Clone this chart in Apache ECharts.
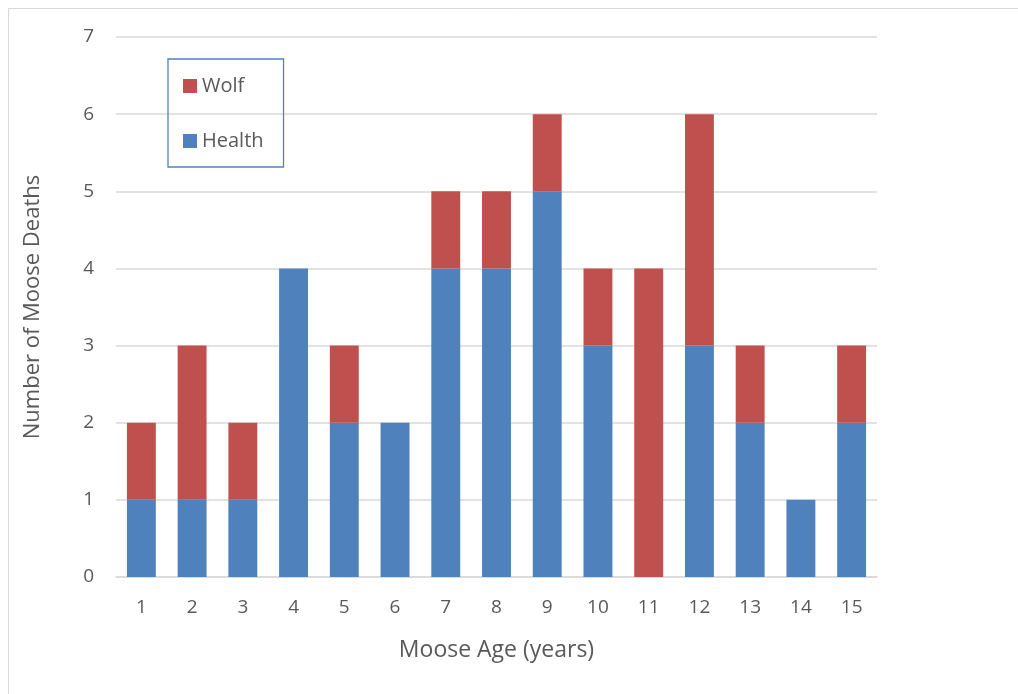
<!DOCTYPE html>
<html><head><meta charset="utf-8">
<script src="https://cdn.jsdelivr.net/npm/echarts@6/dist/echarts.min.js"></script>
<style>html,body{margin:0;padding:0;background:#fff}#c{width:1018px;height:694px}</style>
</head><body><div id="c"></div>
<script>
const categories = ['1','2','3','4','5','6','7','8','9','10','11','12','13','14','15'];
const health = [1,1,1,4,2,2,4,4,5,3,0,3,2,1,2];
const wolf = [1,2,1,0,1,0,1,1,1,1,4,3,1,0,1];
const seriesNames = ['Health','Wolf'];
const xTitle = 'Moose Age (years)';
const yTitle = 'Number of Moose Deaths';

const font = '"Open Sans", "Liberation Sans", sans-serif';
const txt = '#595959';
const chart = echarts.init(document.getElementById('c'), null, {renderer:'canvas'});
chart.setOption({
  animation:false,
  backgroundColor:'#fff',
  textStyle:{fontFamily:font},
  graphic:[{type:'rect', shape:{x:8.5,y:8.5,width:1030,height:700}, style:{fill:'none',stroke:'#D9D9D9',lineWidth:1}, silent:true, z:-1}],
  grid:{left:116,right:141,top:37,bottom:117,containLabel:false},
  legend:{
    data:['Wolf','Health'], orient:'vertical', left:168, top:59,
    itemWidth:14, itemHeight:14, itemGap:35, icon:'rect',
    padding:[17,20,16,15], borderColor:'#4F81BD', borderWidth:1.3,
    textStyle:{color:txt,fontSize:20,fontFamily:font}
  },
  xAxis:{type:'category', data:categories, name:xTitle, nameLocation:'middle', nameGap:62,
    nameTextStyle:{color:txt,fontSize:23,fontFamily:font},
    axisLine:{show:true,lineStyle:{color:'#D9D9D9',width:1.5}}, axisTick:{show:false},
    axisLabel:{color:txt,fontSize:19,margin:21,fontFamily:font}},
  yAxis:{type:'value', min:0, max:7, interval:1, name:yTitle, nameLocation:'middle', nameGap:72,
    nameTextStyle:{color:txt,fontSize:22,fontFamily:font},
    axisLine:{show:false}, axisTick:{show:false},
    axisLabel:{color:txt,fontSize:19,margin:22,fontFamily:font},
    splitLine:{lineStyle:{color:'#D9D9D9',width:1.5}}},
  series:[
    {name:'Health', type:'bar', stack:'a', data:health, barWidth:'57%', itemStyle:{color:'#4F81BD'}},
    {name:'Wolf', type:'bar', stack:'a', data:wolf, barWidth:'57%', itemStyle:{color:'#C0504D'}}
  ]
});
</script></body></html>
